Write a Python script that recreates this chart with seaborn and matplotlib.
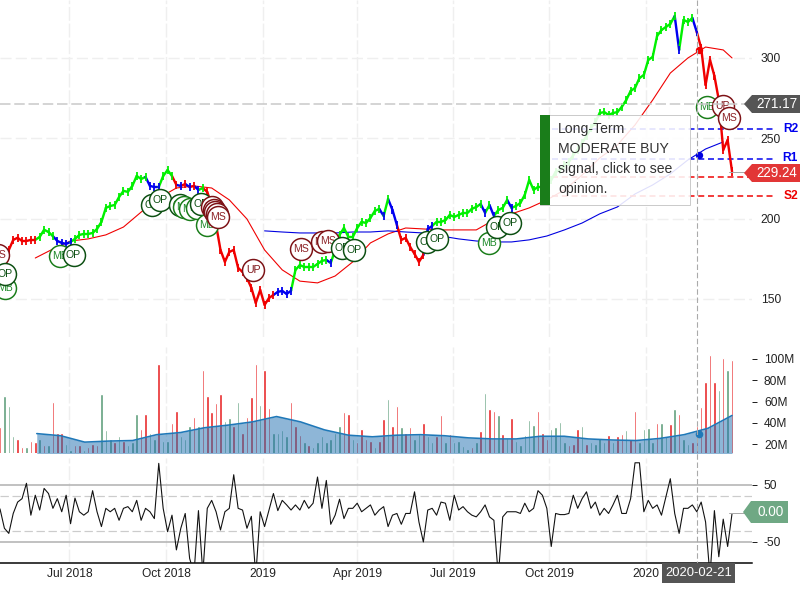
import numpy as np
import pandas as pd
import matplotlib
matplotlib.use("Agg")
import matplotlib.pyplot as plt
from matplotlib.patches import Polygon, Rectangle
import seaborn as sns

sns.set_theme(style="white")
plt.rcParams["font.family"] = ["Liberation Sans", "DejaVu Sans"]

# ---------- data ----------
first_day = "2018-04-26"
last_day = "2020-03-23"
cross_day = "2020-02-21"
level_from = "2019-10-04"
level_to = "2020-05-03"

price_close = [
    173, 173, 180.4, 186.7, 188, 186, 186, 186.7, 186.7, 188.5, 193, 191.6, 189, 186, 184.8, 184.2, 185.4,
    187.3, 189.8, 190.4, 190.4, 191, 193.5, 197.9, 206.6, 207.8, 208.4, 213.4, 217.2, 216.6, 220.3, 226.5,
    224.6, 225.9, 220.3, 219.6, 219.6, 226.5, 230.2, 226.5, 220.9, 220.3, 221.5, 219.6, 220.3, 217.8, 219,
    216.5, 208.4, 196, 180.4, 173, 179.2, 180.4, 169.2, 166.7, 163, 156.8, 147.4, 155.5, 146.2, 150.5, 152.4,
    154.3, 154.9, 153, 155, 168, 171, 169.8, 169.8, 169.8, 171.7, 173.6, 174.2, 172.3, 180.4, 189.8, 194.1,
    188.5, 188.5, 194.1, 197.9, 197.2, 200.4, 204.7, 206, 201.6, 212.2, 205.3, 196, 186.7, 187.9, 182.3, 178,
    173, 177.3, 193.5, 195.4, 197.9, 197.9, 199, 202.2, 201, 202.2, 203.5, 203.5, 206, 207.2, 209, 203.5,
    208.4, 201.6, 205.3, 206.6, 211.6, 206.6, 207.8, 209.7, 214.7, 224, 217.8, 219.7, 219.7, 224, 224, 229,
    230.3, 233.4, 235.2, 239.6, 242.7, 247, 251.4, 256.4, 260.1, 265.7, 266.3, 264.5, 265.7, 266.3, 269.5,
    273.8, 279.4, 281.3, 287.5, 289.4, 298.8, 300.6, 313.7, 317.4, 319.3, 321.2, 326.1, 305, 323.7, 322.4,
    324.9, 316.2, 306.2, 283.2, 298.8, 288.8, 273.8, 242.7, 248.9, 229.24]
price_signal = (list("r" * 9) + list("g" * 4) + list("b" * 4) + list("g" * 17) + list("b" * 3) + list("g" * 3)
                + list("rbrbrb") + ["g"] + list("r" * 16) + list("b" * 4) + list("g" * 8) + ["b"] + list("g" * 11)
                + ["b", "g", "b", "b"] + list("r" * 6) + list("b" * 2) + list("g" * 11)
                + ["b", "g", "b"] + list("g" * 3) + ["b"] + list("g" * 37) + ["b"] + list("g" * 3) + ["b"]
                + list("r" * 8))

ma_red = [175.4, 181, 186, 187.3, 189.8, 194.7, 204, 212.8, 219, 220.3, 219, 211.6, 199.7, 180.4, 168, 161,
          159.9, 164.2, 173, 184.8, 190.4, 194.1, 193.5, 192.9, 192.9, 192.9, 199.1, 202.9, 206.6, 211.6,
          217.8, 227.1, 237.7, 245.8, 258.3, 273.8, 290.6, 300, 306.8, 305, 300]
ma_blue = [192.3, 191.6, 191, 191, 191, 191.6, 191.6, 192.3, 191.6, 191, 189.1, 187.3, 186, 185.4, 185.4,
           186.7, 189.1, 192.9, 197.2, 202.9, 207.2, 215.3, 220.9, 227.8, 236.5, 243.3, 247.7]
ma_red_cross = 305.0
ma_blue_cross = 239.6

prev_close = 271.17
level_names = ["R2", "R1", "S1", "S2"]
level_values = [255.5, 237.0, 225.6, 214.0]
level_colors = ["#0000ee", "#0000ee", "#ee0000", "#ee0000"]

marker_labels = ["MS", "MB", "OP", "MB", "OP", "OP", "OP", "OP", "MB", "MB", "MB", "OP", "MB", "MS", "MS", "MS",
                 "MS", "MS", "UP", "MS", "MS", "MS", "OP", "OP", "OP", "OP", "MB", "OP", "OP", "MB", "UP", "MS"]
marker_dates = ["2018-04-24", "2018-05-01", "2018-05-01", "2018-06-22", "2018-07-05", "2018-09-18", "2018-09-25",
                "2018-10-14", "2018-10-18", "2018-10-24", "2018-10-31", "2018-11-03", "2018-11-09", "2018-11-14",
                "2018-11-16", "2018-11-17", "2018-11-19", "2018-11-20", "2018-12-23", "2019-02-07", "2019-02-27",
                "2019-03-04", "2019-03-18", "2019-03-29", "2019-06-07", "2019-06-16", "2019-08-05", "2019-08-12",
                "2019-08-25", "2020-02-28", "2020-03-14", "2020-03-20"]
marker_prices = [177.3, 156.8, 165.5, 176.7, 177.3, 208.4, 211.6, 208.4, 207.2, 206, 206.6, 209, 196, 207.2, 205.3,
                 204, 202.9, 201, 168, 181, 185.4, 186, 181.7, 180.4, 185.4, 187.3, 184.8, 194.7, 197.2, 269.5,
                 270.1, 262.6]

volume = [36, 65, 56, 28, 25, 17, 17, 23, 22, 25, 19, 19, 60, 31, 31, 20, 15, 19, 19, 15,
          17, 20, 19, 67, 33, 25, 22, 28, 23, 19, 22, 48, 34, 48, 31, 25, 95, 23, 23, 40,
          51, 28, 25, 37, 46, 37, 90, 65, 50, 59, 67, 42, 45, 37, 60, 31, 46, 64, 95, 57,
          90, 54, 31, 31, 33, 28, 60, 37, 29, 22, 19, 17, 22, 28, 22, 25, 31, 37, 50, 48,
          25, 22, 34, 25, 23, 17, 23, 44, 62, 37, 56,
          36, 31, 36, 25, 30, 40, 28, 22, 28, 47, 22, 30, 22, 23, 18, 16, 17, 22, 32, 68,
          53, 51, 47, 30, 26, 45, 23, 19, 29, 43, 38, 51, 31, 25, 34, 36, 41, 22, 19, 20,
          34, 37, 20, 22, 20, 26, 22, 29, 22, 28, 30, 33, 25, 51, 22, 34, 35, 22, 40, 40,
          28, 39, 53, 48, 25, 20, 22, 37, 55, 78, 104, 78, 71, 101, 90, 99]
volume_side = list("rgggrrgrrg" "rgrrrggrrg" "rrrgggrgrg" "ggrrggrggr" "rgggrgrrrr" "rggrgrrrrg"
                   "rrggggrrrg" "rgggggggrr" "grrrrgrrgrr"
                   "grrggrggrr" "grggggrgrg" "rrgrgrgggg" "grrrggggrr" "rgrggggrgr" "rgrrggggrg"
                   "grgrggrrrr" "rrgrgr")
volume_avg = [30, 28, 22, 23, 23.5, 29, 31, 35.5, 38, 41, 46, 41, 33.5, 28.5, 27, 28.5, 29, 28, 26, 25, 25,
              27.5, 27.5, 25, 24, 23.5, 25.5, 29, 35, 47]
volume_avg_start = "2018-05-31"
volume_avg_cross = 30.0

oscillator = [8, -26, -35, 0, 20, 26, 53, -3, 32, 6, 44, 35, 9, 26, 3, 32, -18, 27, 3, -3,
              3, 40, 3, -23, 9, 3, 9, -12, 9, 12, 3, 23, -12, 9, 3, -9, 88, 9, -32, -3,
              -64, -26, 0, -79, -105, 5, -105, 9, 23, 3, -29, 3, 9, 68, 9, 6, -26, -5, -110, 3,
              -23, 6, 35, 5, 23, 15, 6, 15, 6, 23, 9, 18, 64, 9, 58, -19, -3, 25, -9, 9,
              9, 18, 3, 9, 15, -3, 6, 12, -23, -3, 0,
              -19, 0, 0, 38, -15, -50, 6, 9, -3, 20, 18, -12, 32, 6, 12, 3, -3, -6, 3, 15,
              -6, -12, -110, -6, 3, 3, 3, 0, 18, 3, 9, 40, 32, 9, -58, 0, -2, -2, 0, 32,
              9, 26, 38, 9, 20, -3, 9, 0, 15, 32, 0, 0, 26, 89, 89, 3, 23, 9, 15, -3,
              29, 61, 0, -35, 9, 9, 15, 3, 20, -15, -110, 5, -76, -10, -58, 0]

x_tick_dates = ["2018-07-01", "2018-10-01", "2019-01-01", "2019-04-01", "2019-07-01", "2019-10-01", "2020-01-01"]
x_tick_labels = ["Jul 2018", "Oct 2018", "2019", "Apr 2019", "Jul 2019", "Oct 2019", "2020"]
price_ticks = [150, 200, 250, 300]
volume_ticks = [20, 40, 60, 80, 100]
volume_tick_labels = ["20M", "40M", "60M", "80M", "100M"]
osc_ticks = [-50, 50]
osc_tick_labels = ["-50", "50"]
osc_solid = [50, -50]
osc_dashed = [30, -30]
tooltip_lines = ["Long-Term", "MODERATE BUY", "signal, click to see", "opinion."]

# ---------- layout ----------
W, H = 800, 600
LEFT_DAY, RIGHT_DAY = pd.Timestamp("2018-04-26"), pd.Timestamp("2020-04-11")
PX = 1 / 100 * 72  # one pixel in points


def panel(top, bottom, width=752):
    return fig.add_axes([0, 1 - bottom / H, width / W, (bottom - top) / H])


fig = plt.figure(figsize=(8, 6), dpi=100, facecolor="white")
ax_p = panel(0, 337)
ax_v = panel(347, 453)
ax_o = panel(458, 563)
GRID = "#efefef"
TEXT = "#222222"
sig_color = {"g": "#00f000", "r": "#f00000", "b": "#0000f0"}
side_color = {"g": "#5f9f7c", "r": "#e8282a"}

for ax in (ax_p, ax_v, ax_o):
    ax.set_facecolor("none")
    ax.set_xlim(LEFT_DAY, RIGHT_DAY)
    ax.set_xticks(pd.to_datetime(x_tick_dates))
    ax.yaxis.tick_right()
    ax.grid(True, axis="x", color=GRID, lw=1, ls=(0, (10, 2)))
    ax.set_axisbelow(True)
    sns.despine(ax=ax, left=True, right=True, top=True, bottom=(ax is not ax_o))

# ---------- price ----------
price_dates = pd.date_range(first_day, last_day, periods=len(price_close))
closes = np.array(price_close)
sig = np.array(price_signal)
for k in range(1, len(closes)):
    ax_p.plot(price_dates[k - 1:k + 1], closes[k - 1:k + 1], color=sig_color[sig[k]], lw=2.4 * PX,
              solid_capstyle="round", zorder=3)
for s in "gbr":
    mask = sig == s
    ax_p.vlines(price_dates[mask], closes[mask] - 2.6, closes[mask] + 2.6,
                color=sig_color[s], lw=1.8 * PX, zorder=3)
ax_p.set_ylim(126.2, 336.1)
ax_p.set_yticks(price_ticks)
ax_p.grid(True, axis="y", color=GRID, lw=1, ls=(0, (8, 3)))
ax_p.tick_params(axis="y", length=0, pad=8 * PX + 0.5, labelsize=12 * PX, labelcolor=TEXT)
ax_p.tick_params(axis="x", length=0, labelbottom=False)

ma_red_dates = list(price_dates[8::4]) + [price_dates[-1]]
ma_blue_dates = list(price_dates[60::4])
sns.lineplot(x=ma_red_dates, y=ma_red, color="#f00000", lw=1.1 * PX, ax=ax_p, zorder=2, estimator=None, errorbar=None)
sns.lineplot(x=ma_blue_dates, y=ma_blue, color="#0000e0", lw=1.1 * PX, ax=ax_p, zorder=2, estimator=None, errorbar=None)

cd = pd.Timestamp(cross_day)
ax_p.scatter([cd], [ma_red_cross], s=28, color="#f00000", zorder=4, lw=0)
ax_p.scatter([cd], [ma_blue_cross], s=28, color="#0000e0", zorder=4, lw=0)

edge = {"OP": "#0c4f12", "MB": "#1a7d1a", "MS": "#7d1216", "UP": "#7d1216"}
text_c = {"OP": "#0c4f12", "MB": "#1f8a2a", "MS": "#8d2226", "UP": "#7d1216"}
for i, (lab, d, p) in enumerate(zip(marker_labels, marker_dates, marker_prices)):
    ax_p.scatter([pd.Timestamp(d)], [p], s=250, facecolor="white", edgecolor=edge[lab], lw=1.5 * PX, zorder=6 + i)
    ax_p.text(pd.Timestamp(d), p, lab, color=text_c[lab], fontsize=10.5 * PX, ha="center", va="center",
              zorder=6 + i, clip_on=True)

for name, val, col in zip(level_names, level_values, level_colors):
    ax_p.plot(pd.to_datetime([level_from, level_to]), [val, val], color=col, lw=1.5 * PX, ls=(0, (4, 2.5)),
              clip_on=False, zorder=2.5)

# ---------- volume ----------
vol_dates = pd.date_range(first_day, last_day, periods=len(volume))
ax_v.bar(vol_dates, volume, width=2.4, color=[side_color[c] for c in volume_side[:len(volume)]], zorder=2)
avg_dates = pd.date_range(volume_avg_start, last_day, periods=len(volume_avg))
ax_v.fill_between(avg_dates, volume_avg, 0, color="#1f6fb0", alpha=0.5, lw=0, zorder=3)
sns.lineplot(x=avg_dates, y=volume_avg, color="#1f78b8", lw=1.6 * PX, ax=ax_v, zorder=4, estimator=None, errorbar=None)
ax_v.scatter([cd], [volume_avg_cross], s=30, color="#1f78b8", lw=0, zorder=5)
ax_v.set_ylim(11.8, 111.2)
ax_v.set_yticks(volume_ticks)
ax_v.set_yticklabels(volume_tick_labels)
ax_v.tick_params(axis="y", right=True, length=5 * PX, width=1 * PX, color="#222222", pad=7 * PX,
                 labelsize=12 * PX, labelcolor=TEXT)
ax_v.tick_params(axis="x", length=0, labelbottom=False)

# ---------- oscillator ----------
osc_dates = pd.date_range(first_day, last_day, periods=len(oscillator))
for v in osc_solid:
    ax_o.axhline(v, color="#b4b4b4", lw=1.6 * PX, zorder=1)
for v in osc_dashed:
    ax_o.axhline(v, color="#cccccc", lw=1.2 * PX, ls=(0, (7, 3)), zorder=1)
sns.lineplot(x=osc_dates, y=oscillator, color="#111111", lw=1.1 * PX, ax=ax_o, zorder=3, estimator=None, errorbar=None)
ax_o.set_ylim(-87, 97.4)
ax_o.set_yticks(osc_ticks)
ax_o.set_yticklabels(osc_tick_labels)
ax_o.tick_params(axis="y", right=True, length=5 * PX, width=1 * PX, color="#222222", pad=7 * PX,
                 labelsize=12 * PX, labelcolor=TEXT)
ax_o.set_xticklabels(x_tick_labels)
ax_o.tick_params(axis="x", length=0, pad=5 * PX, labelsize=12 * PX, labelcolor=TEXT)
ax_o.spines["bottom"].set_color("#000000")
ax_o.spines["bottom"].set_linewidth(1.5 * PX)
for ax in (ax_p, ax_v, ax_o):
    ax.set_xlabel("")
    ax.set_ylabel("")

# ---------- overlay, in page pixels ----------
top = fig.add_axes([0, 0, 1, 1], zorder=20)
top.set_xlim(0, W)
top.set_ylim(H, 0)
top.axis("off")
top.patch.set_alpha(0)

# crosshair and guide lines
top.plot([697, 697], [0, 563], color="#aaaaaa", lw=1.1 * PX, ls=(0, (5, 2.5)), zorder=1)
top.plot([0, 745], [104, 104], color="#c8c8c8", lw=1.5 * PX, ls=(0, (7, 2.5)), zorder=1)
top.plot([729, 745], [172, 172], color="#aaaaaa", lw=1 * PX, zorder=1)
top.plot([729, 745], [513, 513], color="#aaaaaa", lw=1 * PX, zorder=1)

# level names
for name, yy, col in zip(level_names, [129, 158, 178, 196], level_colors):
    top.text(798, yy, name, color=col, fontsize=12 * PX, fontweight="bold", ha="right", va="center", zorder=2)


def tag(y0, y1, x0, x1, color, label, tx):
    mid = (y0 + y1) / 2
    top.add_patch(Polygon([(x0, mid), (x0 + 8, y0), (x1, y0), (x1, y1), (x0 + 8, y1)], closed=True,
                          facecolor=color, edgecolor="none", zorder=3, clip_on=False))
    top.text(tx, mid, label, color="white", fontsize=13.5 * PX, ha="center", va="center", zorder=4)


tag(95, 113, 744, 800, "#555555", f"{prev_close:.2f}", 777)
tag(164, 182, 744, 800, "#e23636", f"{price_close[-1]:.2f}", 777)
tag(501, 523, 743, 788, "#6fa884", f"{oscillator[-1]:.2f}", 771)

top.add_patch(Rectangle((662, 563), 73, 20, facecolor="#555555", edgecolor="none", zorder=3))
top.text(698.5, 572.5, cross_day, color="white", fontsize=13 * PX, ha="center", va="center", zorder=4)

# tooltip
top.add_patch(Rectangle((540, 115), 150, 90, facecolor="white", edgecolor="#c4c4c4", lw=1 * PX, alpha=0.88, zorder=5))
top.add_patch(Rectangle((540, 115), 10, 90, facecolor="#1a7d1a", edgecolor="none", zorder=6))
for line, yy in zip(tooltip_lines, [129, 149, 169, 189]):
    top.text(558, yy, line, color="#333333", fontsize=14 * PX, ha="left", va="center", zorder=7)

fig.savefig("out.png", dpi=100)
